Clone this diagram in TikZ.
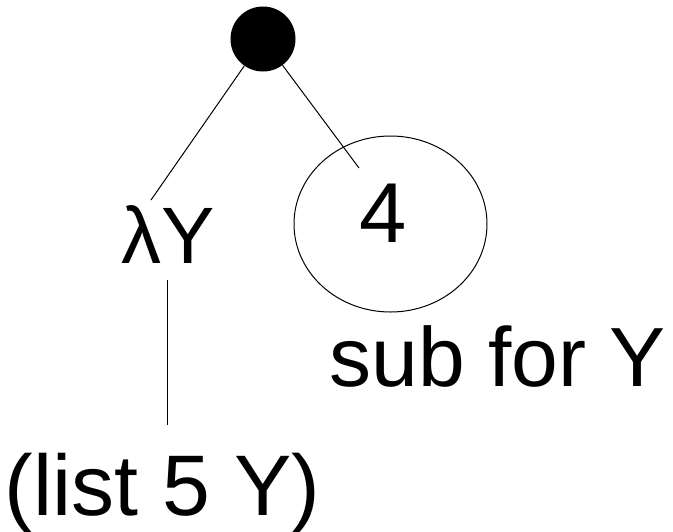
\documentclass[tikz,border=0pt]{standalone}
\usepackage{fontspec}
\setmainfont{Liberation Sans}
\usetikzlibrary{shapes.geometric}
\tikzset{
    big/.style={font=\fontsize{84}{84}\selectfont, inner sep=0pt, anchor=base},
    edge/.style={line width=1pt}
}

\begin{document}
\begin{tikzpicture}[x=1pt,y=-1pt]
        \useasboundingbox (0,0) rectangle (673,531);
        %circle
            \node[circle, fill=black, minimum size=65pt, inner sep=0pt] (root) at (263,39) {};
            \node[ellipse, draw, line width=1pt, minimum width=193pt, minimum height=176pt] (subst) at (390.5,224) {};
        %nodes
            \node[big, font=\fontsize{80}{80}\selectfont] (lam) at (168,263) {λY};
            \node[big, font=\fontsize{85}{85}\selectfont] (four) at (383.5,242.7) {4};
            \node[big] (subfor) at (498,386.7) {sub for Y};
            \node[big, font=\fontsize{86}{86}\selectfont] (body) at (162.5,515) {(list 5 Y)};
        % line ends
            \coordinate (lamtip) at (151,200);
            \coordinate (fourtip) at (359,168);
            \coordinate (bodytop) at (167.7,280);
            \coordinate (bodybot) at (167.7,425);
        % lines
            \draw[edge] (root) -- (lamtip);
            \draw[edge] (root) -- (fourtip);
            \draw[edge] (bodytop) -- (bodybot);
\end{tikzpicture}
\end{document}
